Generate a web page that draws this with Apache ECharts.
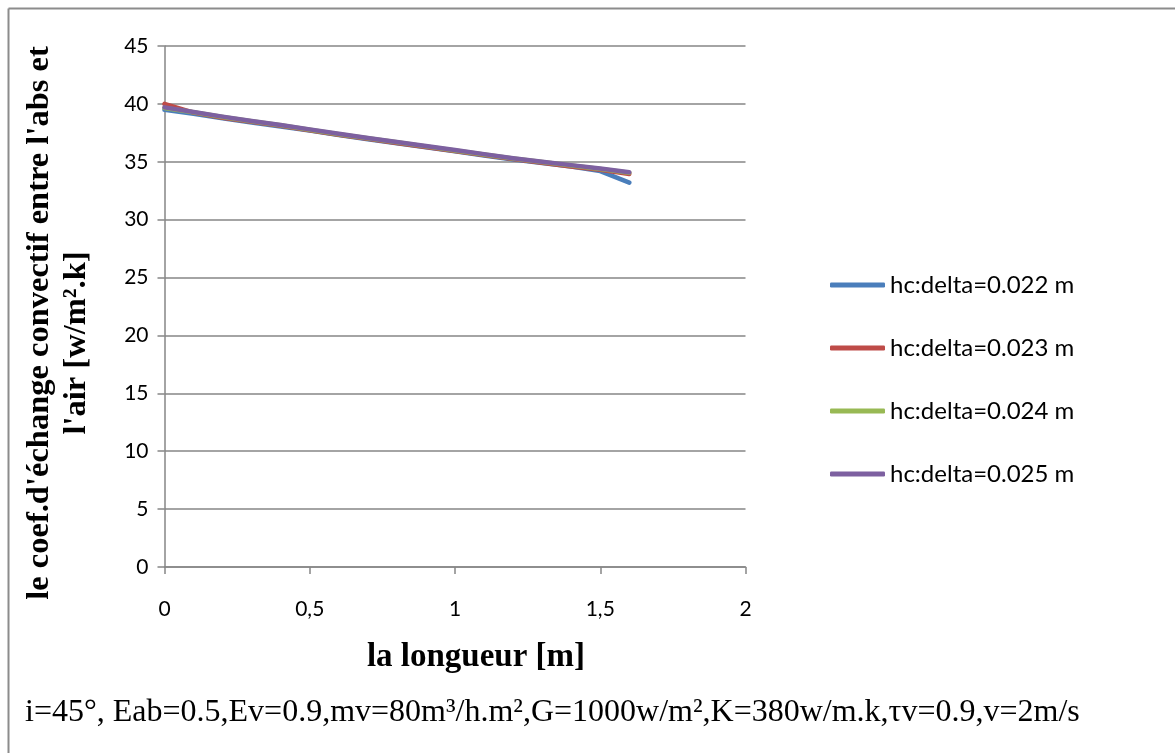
<!DOCTYPE html>
<html>
<head>
<meta charset="utf-8">
<script src="https://cdn.jsdelivr.net/npm/echarts@6/dist/echarts.min.js"></script>
<style>
  html, body { margin: 0; padding: 0; background: #fff; }
  #chart { width: 1175px; height: 753px; }
</style>
</head>
<body>
<div id="chart"></div>
<script>
// Position along the absorber [m]
const lengths = [0, 0.1, 0.2, 0.3, 0.4, 0.5, 0.6, 0.7, 0.8, 0.9, 1.0, 1.1, 1.2, 1.3, 1.4, 1.5, 1.6];

// Convective coefficient hc [W/m².K] for each air gap delta
const hc022 = [39.5, 39.15, 38.75, 38.4, 38.05, 37.7, 37.3, 36.95, 36.6, 36.25, 35.9, 35.55, 35.2, 34.9, 34.6, 34.2, 33.2];
const hc023 = [40.0, 39.25, 38.8, 38.45, 38.1, 37.72, 37.33, 36.98, 36.63, 36.28, 35.93, 35.58, 35.23, 34.92, 34.6, 34.3, 33.95];
const hc024 = [39.65, 39.27, 38.87, 38.5, 38.15, 37.77, 37.38, 37.03, 36.68, 36.33, 35.98, 35.63, 35.28, 34.98, 34.68, 34.38, 34.05];
const hc025 = [39.7, 39.3, 38.9, 38.53, 38.18, 37.8, 37.42, 37.06, 36.71, 36.36, 36.01, 35.66, 35.31, 35.01, 34.71, 34.41, 34.1];

const seriesNames = ['hc:delta=0.022 m', 'hc:delta=0.023 m', 'hc:delta=0.024 m', 'hc:delta=0.025 m'];
const seriesValues = [hc022, hc023, hc024, hc025];
const seriesColors = ['#4a7ebb', '#be4b48', '#98b954', '#7d60a0'];

// Axis ranges and ticks
const xMin = 0, xMax = 2, xStep = 0.5;
const yMin = 0, yMax = 45, yStep = 5;

const chart = echarts.init(document.getElementById('chart'), null, { renderer: 'canvas' });

const gray = '#868686';
const labelFont = 'Lato, "Open Sans", sans-serif';
const serif = '"Liberation Serif", "Times New Roman", serif';

const series = seriesNames.map((name, i) => ({
  name: name,
  type: 'line',
  data: lengths.map((x, k) => [x, seriesValues[i][k]]),
  showSymbol: false,
  symbol: 'none',
  lineStyle: { color: seriesColors[i], width: 4.5, cap: 'round', join: 'round' },
  itemStyle: { color: seriesColors[i] },
  emphasis: { disabled: true },
  z: 2 + i
}));

chart.setOption({
  backgroundColor: '#fff',
  animation: false,
  grid: { left: 164.5, right: 429.5, top: 46, bottom: 186, containLabel: false },
  legend: {
    orient: 'vertical',
    left: 830,
    top: 273,
    padding: 0,
    itemWidth: 55,
    itemHeight: 5,
    itemGap: 39,
    icon: 'roundRect',
    data: seriesNames,
    textStyle: { fontFamily: labelFont, fontSize: 24, lineHeight: 24, color: '#000' }
  },
  xAxis: {
    type: 'value',
    min: xMin, max: xMax, interval: xStep,
    axisLine: { show: true, onZero: false, lineStyle: { color: gray, width: 1.5 } },
    axisTick: { show: true, inside: false, length: 7, lineStyle: { color: gray, width: 1.5 } },
    splitLine: { show: false },
    axisLabel: {
      margin: 32,
      fontFamily: labelFont, fontSize: 21, color: '#000',
      formatter: v => String(v).replace('.', ',')
    }
  },
  yAxis: {
    type: 'value',
    min: yMin, max: yMax, interval: yStep,
    axisLine: { show: true, onZero: false, lineStyle: { color: gray, width: 1.5 } },
    axisTick: { show: true, inside: false, length: 7, lineStyle: { color: gray, width: 1.5 } },
    splitLine: { show: true, lineStyle: { color: gray, width: 1.5 } },
    axisLabel: { margin: 16, fontFamily: labelFont, fontSize: 21, color: '#000' }
  },
  series: series,
  graphic: [
    // outer frame (top and left edges)
    { type: 'line', shape: { x1: 8.5, y1: 8.5, x2: 1175, y2: 8.5 }, style: { stroke: '#8c8c8c', lineWidth: 2 }, silent: true },
    { type: 'line', shape: { x1: 8.5, y1: 8.5, x2: 8.5, y2: 753 }, style: { stroke: '#8c8c8c', lineWidth: 2 }, silent: true },
    // x axis title
    {
      type: 'text', x: 476, y: 657, silent: true,
      style: { text: 'la longueur [m]', font: 'bold 33px ' + serif, fill: '#000', align: 'center', verticalAlign: 'middle' }
    },
    // y axis title, two lines
    {
      type: 'text', x: 40, y: 323, rotation: Math.PI / 2, silent: true,
      style: { text: "le coef.d'échange convectif entre l'abs et", font: 'bold 32.5px ' + serif, fill: '#000', align: 'center', verticalAlign: 'middle' }
    },
    {
      type: 'text', x: 77, y: 343, rotation: Math.PI / 2, silent: true,
      style: { text: "l'air [w/m².k]", font: 'bold 32.5px ' + serif, fill: '#000', align: 'center', verticalAlign: 'middle' }
    },
    // operating conditions
    {
      type: 'text', x: 25, y: 713, silent: true,
      style: { text: 'i=45°, Eab=0.5,Ev=0.9,mv=80m³/h.m²,G=1000w/m²,K=380w/m.k,τv=0.9,v=2m/s', font: '32px ' + serif, fill: '#000', align: 'left', verticalAlign: 'middle' }
    }
  ]
});
</script>
</body>
</html>
